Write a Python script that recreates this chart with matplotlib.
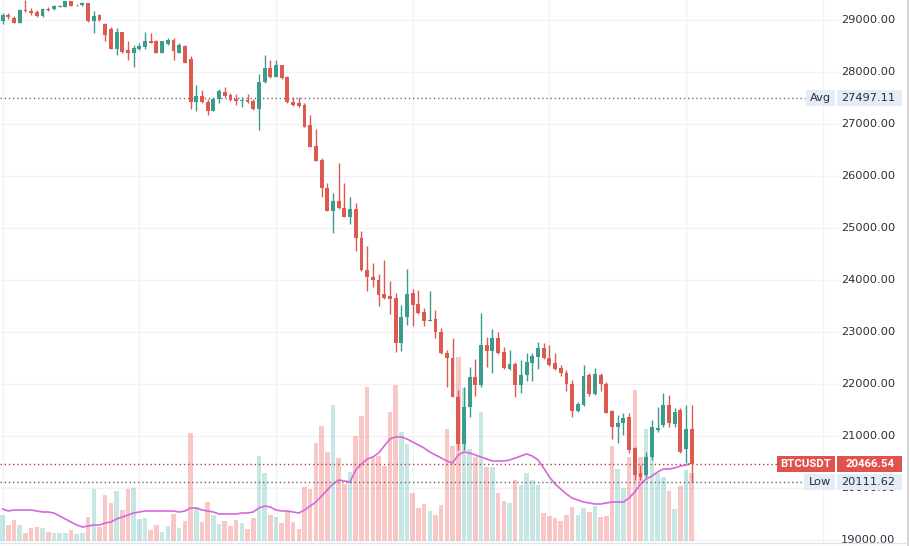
import matplotlib
matplotlib.use("Agg")
import matplotlib.pyplot as plt
from matplotlib.patches import Rectangle
from matplotlib.lines import Line2D
from matplotlib.transforms import blended_transform_factory
from matplotlib.colors import to_rgba
import numpy as np

# BTCUSDT hourly candles
opens = [28987, 29102, 29040, 28948, 29192, 29179, 29154, 29077, 29217, 29206,
         29256, 29256, 29371, 29280, 29282, 29321, 28975, 29090, 28923, 28833,
         28448, 28769, 28423, 28371, 28436, 28475, 28590, 28590, 28371, 28538,
         28615, 28371, 28500, 28244, 27423, 27538, 27423, 27256, 27487, 27615,
         27552, 27475, 27436, 27462, 27436, 27294, 27808, 28077, 27910, 28129,
         27910, 27429, 27398, 27360, 26981, 26577, 26308, 25764, 25333, 25525,
         25379, 25217, 25371, 24802, 24193, 24058, 24000, 23731, 23693, 23654,
         22794, 23289, 23750, 23545, 23391, 23217, 23244, 23000, 22602, 22494,
         21756, 20846, 21552, 22129, 21981, 22750, 22641, 22879, 22622, 22294,
         22385, 21981, 22173, 22410, 22525, 22698, 22494, 22404, 22308, 22212,
         22000, 21487, 21596, 22173, 21808, 22173, 22000, 21487, 21168, 21250,
         21366, 20769, 20288, 20250, 20596, 21115, 21212, 21596, 21231, 21500,
         20750, 21135]
highs = [29140, 29129, 29077, 29217, 29380, 29231, 29192, 29231, 29244, 29288,
         29294, 29371, 29375, 29302, 29346, 29333, 29167, 29115, 28948, 28871,
         28846, 28769, 28602, 28514, 28552, 28769, 28756, 28615, 28602, 28654,
         28654, 28552, 28513, 28308, 27744, 27654, 27487, 27525, 27679, 27706,
         27602, 27577, 27525, 27577, 27487, 27962, 28333, 28231, 28231, 28141,
         27923, 27525, 27513, 27410, 27173, 26898, 26340, 25871, 25679, 26250,
         25860, 25602, 25475, 24943, 24648, 24333, 24116, 24385, 23987, 23745,
         23520, 24221, 23821, 23808, 23456, 23794, 23423, 23077, 22654, 22879,
         21885, 21937, 22322, 22475, 23371, 22910, 23052, 23006, 22717, 22654,
         22423, 22462, 22602, 22590, 22814, 22783, 22750, 22590, 22366, 22269,
         22077, 21654, 22366, 22212, 22308, 22212, 22039, 21500, 21404, 21442,
         21448, 20789, 20442, 20692, 21308, 21558, 21827, 21789, 21539, 21539,
         21596, 21596]
lows = [28923, 29013, 28936, 28940, 29154, 29102, 29052, 29064, 29179, 29192,
        29244, 29250, 29263, 29269, 29269, 28962, 28744, 28975, 28602, 28440,
        28333, 28360, 28231, 28102, 28423, 28448, 28558, 28365, 28365, 28513,
        28231, 28360, 28167, 27294, 27256, 27410, 27179, 27244, 27410, 27525,
        27437, 27360, 27333, 27410, 27269, 26885, 27794, 27885, 27898, 27871,
        27410, 27346, 27333, 26936, 26552, 26280, 25602, 25320, 24910, 25371,
        25206, 25077, 24564, 24179, 23794, 23860, 23500, 23635, 23352, 22622,
        22635, 23135, 23121, 23346, 23116, 23206, 22885, 22577, 21948, 21750,
        20731, 20731, 21371, 21769, 21948, 22333, 22206, 22577, 22289, 22269,
        21745, 21833, 22064, 22064, 22283, 22475, 22346, 22269, 22154, 21866,
        21366, 21462, 21577, 21769, 21789, 21871, 21442, 20948, 20865, 21019,
        20673, 20154, 20154, 20212, 20538, 21077, 21173, 21173, 21173, 20673,
        20481, 20111.62]
closes = [29102, 29052, 28948, 29192, 29167, 29140, 29077, 29217, 29192, 29269,
          29269, 29360, 29269, 29290, 29321, 28975, 29077, 29000, 28706, 28448,
          28769, 28385, 28371, 28462, 28500, 28602, 28563, 28371, 28590, 28615,
          28398, 28513, 28179, 27423, 27538, 27423, 27256, 27487, 27641, 27538,
          27462, 27436, 27462, 27420, 27294, 27808, 28077, 27910, 28129, 27885,
          27423, 27365, 27346, 26948, 26564, 26294, 25764, 25333, 25525, 25379,
          25217, 25371, 24802, 24187, 24052, 24000, 23712, 23660, 23641, 22794,
          23295, 23737, 23529, 23371, 23217, 23240, 23000, 22590, 22494, 21756,
          20846, 21552, 22141, 21981, 22750, 22641, 22879, 22590, 22302, 22385,
          21981, 22173, 22429, 22538, 22686, 22494, 22366, 22283, 22206, 22000,
          21487, 21616, 22154, 21808, 22193, 22000, 21448, 21168, 21250, 21346,
          20731, 20250, 20212, 20596, 21173, 21154, 21596, 21250, 21462, 20692,
          21135, 20466.54]
volumes = [650, 400, 525, 400, 208, 333, 358, 333, 233, 208,
           208, 208, 275, 175, 208, 608, 1300, 358, 1150, 943,
           1250, 775, 1300, 1333, 543, 583, 275, 400, 225, 375,
           675, 333, 500, 2708, 858, 468, 968, 650, 425, 500,
           383, 525, 458, 308, 583, 2125, 1708, 650, 608, 458,
           743, 483, 300, 1358, 1300, 2443, 2883, 2233, 3400, 2068,
           1425, 1733, 2625, 3125, 3858, 2108, 2125, 1883, 3218, 3900,
           2718, 2425, 1193, 833, 925, 750, 650, 900, 2800, 2375,
           4600, 3825, 2293, 2108, 3218, 1843, 1843, 1193, 1008, 958,
           1525, 1400, 1693, 1525, 1400, 708, 625, 583, 500, 650,
           843, 650, 825, 725, 875, 600, 625, 2375, 1800, 1325,
           2100, 3775, 2100, 2800, 2450, 1700, 1600, 1250, 800, 1375,
           1775, 1700]
vol_ma = [800, 750, 775, 775, 775, 775, 750, 725, 725, 700,
          625, 550, 475, 400, 350, 375, 400, 400, 450, 475,
          550, 600, 650, 700, 725, 750, 750, 750, 750, 750,
          750, 725, 750, 825, 825, 775, 750, 725, 675, 675,
          675, 675, 700, 700, 725, 825, 875, 850, 775, 750,
          750, 725, 700, 775, 875, 975, 1125, 1275, 1425, 1525,
          1500, 1475, 1775, 1925, 2050, 2100, 2200, 2375, 2550, 2600,
          2600, 2550, 2475, 2400, 2325, 2225, 2150, 2075, 2000, 1950,
          2150, 2225, 2200, 2150, 2100, 2050, 2000, 2000, 2000, 2025,
          2075, 2125, 2175, 2125, 2025, 1825, 1600, 1425, 1300, 1175,
          1075, 1025, 975, 950, 925, 925, 950, 975, 975, 975,
          1075, 1225, 1425, 1550, 1625, 1725, 1800, 1800, 1825, 1875,
          1900, 1950]
price_ticks = [19000, 20000, 21000, 22000, 23000, 24000, 25000, 26000, 27000, 28000, 29000]
avg_price = 27497.11
last_price = 20466.54
low_price = 20111.62
symbol = "BTCUSDT"

up_color = "#3a9c8c"
down_color = "#dc5a50"
text_color = "#2a2e39"
grid_color = "#f0f2f7"

o = np.array(opens, dtype=float)
h = np.array(highs, dtype=float)
l = np.array(lows, dtype=float)
c = np.array(closes, dtype=float)
x = np.arange(len(o))
is_up = c >= o

# pixel layout of the screenshot: pane 0..837, price scale 837..907
W = 907.0
fig = plt.figure(figsize=(9.1, 5.46), dpi=100)
ax = fig.add_axes([0, 3 / 546, W / 910, 543 / 546])
ax_vol = ax.twinx()
ax.set_zorder(ax_vol.get_zorder() + 1)
ax.patch.set_visible(False)

ymin, ymax = 18943, 29385
ax.set_xlim(-0.47, 158.8)
ax.set_ylim(ymin, ymax)
ax_vol.set_ylim(-50, 13525)
for a in (ax, ax_vol):
    a.set_xticks([])
    a.set_yticks([])
    for s in a.spines.values():
        s.set_visible(False)

tr = blended_transform_factory(ax.transAxes, ax.transData)
pane_right = 837 / W

# grid (behind volume)
grid_tr = blended_transform_factory(ax_vol.transAxes, ax.transData)
for p in price_ticks:
    ax_vol.plot([0, pane_right], [p, p], transform=grid_tr, color=grid_color, lw=1, zorder=0)
for i in range(0, 150, 24):
    ax_vol.axvline(i, color=grid_color, lw=1, zorder=0)

# volume
vol_cols = [to_rgba("#26a69a", 0.26) if u else to_rgba("#ef5350", 0.32) for u in is_up]
ax_vol.bar(x, volumes, width=0.8, color=vol_cols, linewidth=0, zorder=1)
ax_vol.plot(x, vol_ma, color="#d468da", lw=1.2, zorder=2)

# candles
cols = np.where(is_up, up_color, down_color)
ax.vlines(x, l, h, colors=cols, lw=1, zorder=3)
body_h = np.maximum(np.abs(c - o), 18)
ax.bar(x, body_h, bottom=np.minimum(o, c), width=0.68, color=cols, linewidth=0, zorder=4)

# horizontal reference lines
dot = (0, (1, 2))
ax.axhline(avg_price, xmax=805 / W, color="#6a6d78", lw=1, ls=dot, zorder=2)
ax.axhline(last_price, xmax=777 / W, color="#a8443e", lw=1, ls=dot, zorder=2)
ax.axhline(low_price, xmax=804 / W, color="#6e6262", lw=1, ls=dot, zorder=2)

# price scale labels (20000.00 sits under the Low tag, as in the original)
for p in price_ticks:
    ax.text(895 / W, p, f"{p:.2f}", transform=tr, ha="right", va="center",
            fontsize=8.2, color=text_color, zorder=5)

ppp = (ymax - ymin) / 543.0


def tag(price, label, left_px, value, bg, fg, weight="normal", family="DejaVu Sans"):
    half = 8 * ppp
    ax.add_patch(Rectangle((left_px / W, price - half), (835 - left_px) / W, 2 * half,
                           transform=tr, facecolor=bg, lw=0, zorder=6, clip_on=False))
    ax.add_patch(Rectangle((837 / W, price - half), (902 - 837) / W, 2 * half,
                           transform=tr, facecolor=bg, lw=0, zorder=6, clip_on=False))
    ax.text((left_px + 835) / 2 / W, price, label, transform=tr, ha="center", va="center",
            fontsize=8.2, color=fg, fontweight=weight, family=family, zorder=7)
    ax.text(895 / W, price, value, transform=tr, ha="right", va="center",
            fontsize=8.2, color=fg, fontweight=weight, family=family, zorder=7)


tag(avg_price, "Avg", 806, f"{avg_price:.2f}", "#e3ecf7", text_color)
tag(last_price, symbol, 777, f"{last_price:.2f}", "#e0524c", "white", "bold", "Roboto")
tag(low_price, "Low", 804, f"{low_price:.2f}", "#e3ecf7", text_color)

# right border and bottom edge
fig.add_artist(Line2D([907.5 / 910] * 2, [0, 1], transform=fig.transFigure, color="#d6d6d6", lw=1.5))
fig.add_artist(Line2D([0, W / 910], [3 / 546] * 2, transform=fig.transFigure, color="#e0e3eb", lw=1))

fig.savefig("out.png", dpi=100)
